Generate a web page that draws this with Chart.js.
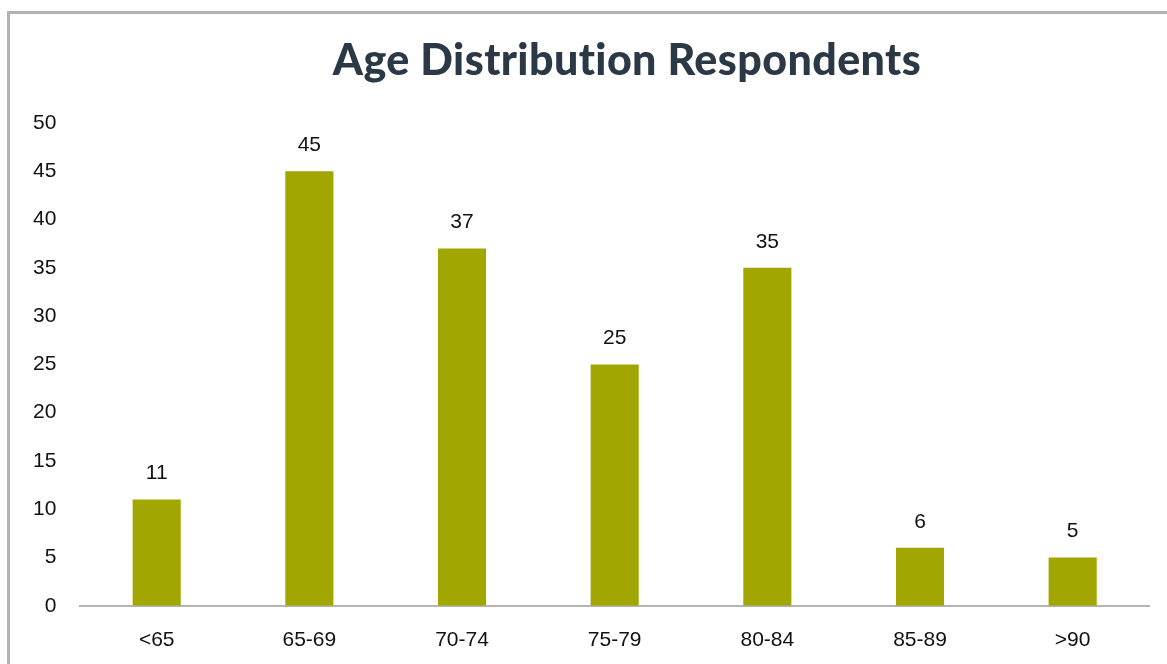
<!DOCTYPE html>
<html>
<head>
<meta charset="utf-8">
<script src="https://cdn.jsdelivr.net/npm/chart.js@4.4.1/dist/chart.umd.min.js"></script>
<style>
  html, body { margin: 0; padding: 0; background: #fff; }
  #wrap { position: relative; width: 1167px; height: 664px; overflow: hidden; }
  #frame { position: absolute; left: 7px; top: 11px; width: 1200px; height: 700px;
           border-top: 3px solid #b3b3b3; border-left: 3px solid #b3b3b3; }
  canvas { position: absolute; left: 0; top: 0; }
</style>
</head>
<body>
<div id="wrap">
  <div id="frame"></div>
  <canvas id="chart" width="1167" height="664"></canvas>
</div>
<script>
  // Age Distribution Respondents
  const chartTitle = "Age Distribution Respondents";
  const ageGroups = ["<65", "65-69", "70-74", "75-79", "80-84", "85-89", ">90"];
  const respondents = [11, 45, 37, 25, 35, 6, 5];
  const yTicks = [0, 5, 10, 15, 20, 25, 30, 35, 40, 45, 50];

  const BAR = "#a1a600";
  const TEXT = "#111";
  const FONT = "'Liberation Sans', Arial, sans-serif";

  // title drawn at a fixed spot (original is centred slightly right of the plot)
  const titlePlugin = {
    id: "titleText",
    afterDraw(chart) {
      const ctx = chart.ctx;
      ctx.save();
      ctx.font = "900 43px Lato, sans-serif";
      if ("letterSpacing" in ctx) ctx.letterSpacing = "0.4px"; // no "ti" ligature
      ctx.fillStyle = "#2b3947";
      ctx.textAlign = "center";
      ctx.textBaseline = "alphabetic";
      ctx.fillText(chartTitle, 627, 75);
      ctx.restore();
    }
  };

  // value labels above each bar
  const valuePlugin = {
    id: "valueLabels",
    afterDatasetsDraw(chart) {
      const ctx = chart.ctx;
      const meta = chart.getDatasetMeta(0);
      ctx.save();
      ctx.font = "21px " + FONT;
      ctx.fillStyle = TEXT;
      ctx.textAlign = "center";
      ctx.textBaseline = "middle";
      meta.data.forEach((bar, i) => {
        ctx.fillText(String(respondents[i]), bar.x, bar.y - 26);
      });
      ctx.restore();
    }
  };

  new Chart(document.getElementById("chart"), {
    type: "bar",
    data: {
      labels: ageGroups,
      datasets: [{
        data: respondents,
        backgroundColor: BAR,
        borderWidth: 0,
        barPercentage: 0.315,
        categoryPercentage: 1
      }]
    },
    options: {
      responsive: false,
      animation: false,
      layout: { padding: { top: 123, left: 9, right: 18, bottom: -11 } },
      plugins: { legend: { display: false }, tooltip: { enabled: false }, title: { display: false } },
      scales: {
        x: {
          grid: { display: false, drawTicks: false },
          border: { display: true, color: "#b5b5b5", width: 2 },
          ticks: { color: TEXT, font: { family: FONT, size: 21 }, padding: 22 }
        },
        y: {
          min: 0,
          max: 50,
          afterBuildTicks(scale) { scale.ticks = yTicks.map(v => ({ value: v })); },
          grid: { display: false, drawTicks: false },
          border: { display: false },
          ticks: { color: TEXT, font: { family: FONT, size: 21 }, padding: 24 }
        }
      }
    },
    plugins: [titlePlugin, valuePlugin]
  });
</script>
</body>
</html>
